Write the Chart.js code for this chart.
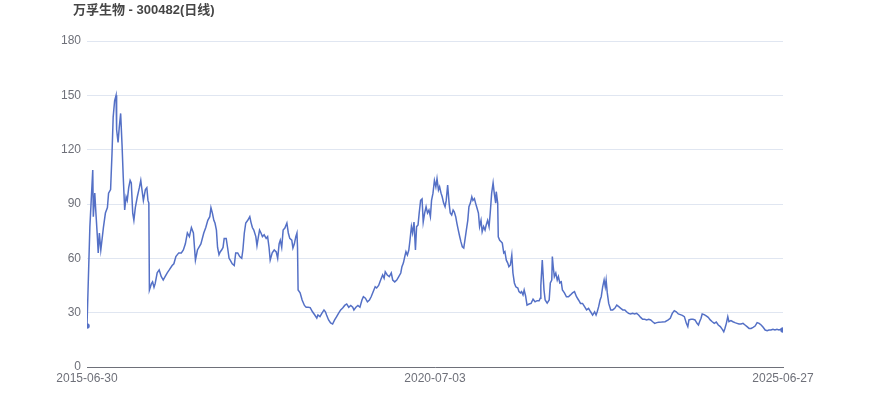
<!DOCTYPE html>
<html>
<head>
<meta charset="utf-8">
<script src="https://cdn.jsdelivr.net/npm/chart.js@4.4.0/dist/chart.umd.min.js"></script>
<style>
  html, body { margin: 0; padding: 0; background: #fff; }
  #wrap { width: 870px; height: 417px; position: relative; }
</style>
</head>
<body>
<div id="wrap"><canvas id="priceChart"></canvas></div>
<script>
// 万孚生物 300482 daily close (trading-day index -> price)
const chartTitle = '万孚生物 - 300482(日线)';
const tickDays = [0, 1210, 2420];
const tickDates = ['2015-06-30', '2020-07-03', '2025-06-27'];
const yTicks = [0, 30, 60, 90, 120, 150, 180];

const tradeDay = [
  0, 10, 20, 22, 27, 31, 36, 39, 43, 48, 52, 57, 64, 71, 75, 82, 87, 91, 96, 101,
  103, 108, 112, 117, 122, 126, 131, 136, 140, 145, 150, 154, 159, 163, 168, 175, 182, 187, 191, 196,
  203, 208, 212, 215, 217, 224, 228, 233, 237, 244, 251, 258, 265, 272, 279, 286, 296, 302, 309, 319,
  328, 335, 342, 349, 356, 363, 370, 377, 384, 396, 406, 413, 420, 427, 431, 436, 441, 445, 450, 454,
  459, 463, 468, 473, 477, 484, 489, 494, 498, 505, 512, 517, 524, 531, 538, 542, 547, 552, 559, 566,
  570, 575, 580, 587, 591, 596, 600, 605, 610, 616, 623, 628, 633, 637, 644, 651, 658, 663, 668, 672,
  677, 682, 688, 695, 700, 705, 712, 716, 721, 726, 730, 732, 734, 741, 748, 756, 762, 769, 776, 784,
  792, 799, 803, 810, 817, 824, 829, 833, 840, 847, 854, 861, 868, 875, 882, 889, 896, 903, 910, 917,
  924, 928, 935, 942, 949, 956, 961, 968, 975, 982, 988, 995, 1002, 1007, 1014, 1021, 1028, 1033, 1037, 1044,
  1051, 1058, 1063, 1070, 1077, 1084, 1091, 1095, 1100, 1105, 1109, 1114, 1119, 1123, 1128, 1132, 1137, 1142, 1146, 1151,
  1155, 1160, 1165, 1169, 1174, 1179, 1184, 1189, 1194, 1198, 1203, 1208, 1213, 1217, 1222, 1226, 1231, 1235, 1240, 1245,
  1249, 1254, 1259, 1263, 1268, 1273, 1277, 1282, 1286, 1291, 1296, 1300, 1305, 1310, 1314, 1319, 1324, 1328, 1333, 1338,
  1342, 1347, 1351, 1356, 1361, 1365, 1370, 1374, 1379, 1384, 1388, 1393, 1398, 1402, 1407, 1412, 1416, 1421, 1423, 1428,
  1430, 1435, 1440, 1444, 1449, 1453, 1458, 1463, 1467, 1472, 1477, 1481, 1486, 1491, 1498, 1502, 1507, 1511, 1516, 1520,
  1525, 1530, 1537, 1544, 1551, 1558, 1565, 1572, 1576, 1578, 1583, 1589, 1593, 1600, 1607, 1611, 1616, 1618, 1621, 1625,
  1630, 1635, 1639, 1644, 1649, 1653, 1660, 1667, 1674, 1681, 1688, 1695, 1702, 1709, 1716, 1723, 1730, 1737, 1744, 1751,
  1758, 1765, 1770, 1774, 1779, 1784, 1788, 1793, 1798, 1802, 1805, 1809, 1814, 1821, 1828, 1835, 1842, 1849, 1856, 1863,
  1870, 1876, 1883, 1890, 1897, 1904, 1911, 1918, 1925, 1932, 1939, 1946, 1953, 1960, 1967, 1974, 1981, 1988, 1998, 2010,
  2021, 2028, 2035, 2042, 2049, 2056, 2063, 2070, 2077, 2084, 2089, 2093, 2100, 2107, 2114, 2121, 2126, 2130, 2135, 2139,
  2146, 2153, 2160, 2167, 2174, 2181, 2188, 2195, 2202, 2209, 2214, 2218, 2223, 2228, 2232, 2239, 2246, 2253, 2260, 2267,
  2274, 2281, 2288, 2295, 2302, 2309, 2316, 2323, 2330, 2337, 2344, 2351, 2358, 2365, 2371, 2378, 2385, 2392, 2399, 2406,
  2413, 2420
];

const close = [
  22.6, 77.5, 108.8, 83, 96, 85, 72, 63, 74, 64.6, 70, 77, 85, 88, 96, 98, 118, 138, 147, 150,
  131, 124, 132, 140, 122, 105, 86.7, 94, 92, 99, 103, 101.6, 85, 81, 88, 94, 99, 103, 98, 92,
  98, 99, 92, 90.5, 42.5, 46, 47, 44, 46, 52, 53.6, 50, 48, 50, 52, 53.6, 56, 57, 61, 63,
  63, 64.6, 68, 74, 72, 77, 74, 59, 64.6, 68, 74, 77, 81, 83, 88, 85, 81, 79.5, 75.6, 66,
  62, 63.5, 64.6, 66, 71, 71, 65.7, 60, 59, 57, 56, 63, 63, 61, 60, 64.6, 74, 79.5, 81, 83,
  80, 77, 75.6, 72, 67, 72, 75.6, 74, 72, 73, 71, 72, 66, 59, 63, 64.6, 63.5, 60, 68, 70,
  66, 75.6, 76.7, 79.5, 74, 71, 70, 65.7, 68, 72, 74, 66, 42.5, 41, 37, 34, 33, 33, 32.8, 30.5,
  28.7, 27, 28.7, 27.8, 29.8, 31.5, 30.5, 28.7, 26, 24.3, 23.7, 26, 27.8, 29.8, 31.5, 32.6, 34, 34.8, 33, 34,
  33, 31.5, 33, 34, 33, 37, 38.8, 38, 36, 37, 38.8, 41.6, 44.3, 43.6, 45, 48, 50.8, 49, 52.6, 50.8,
  49.9, 51.9, 48, 47, 48, 49.9, 51.9, 55.4, 57.4, 61, 63.7, 61.8, 64.6, 70, 77.5, 74, 80, 64.6, 77.5, 78.4,
  85, 92, 92.8, 80, 85, 88.5, 85, 86.7, 83, 92, 96, 103, 99.5, 104, 97.7, 99.5, 96, 94, 90.5, 88.5,
  92, 100.5, 90.5, 85, 83.9, 86.7, 85.7, 83, 79.5, 75.6, 71.9, 69.2, 66.4, 65.7, 70, 75.6, 81, 88.5, 90.5, 94,
  92, 93, 90.5, 87.8, 85, 77.5, 81, 74.7, 77.5, 75.6, 78.4, 81, 77.5, 85, 96, 101.6, 96, 90.5, 96.8, 90.5,
  71.9, 70, 69.2, 68.4, 63, 63.7, 59, 57.4, 55.4, 56.3, 61.8, 51.9, 46.4, 44.3, 43.6, 41.6, 40.9, 41.6, 39.8, 42.5,
  39.2, 34.2, 34.8, 35.1, 37.4, 36, 36.6, 36.6, 38, 45, 59, 42.5, 37, 35.3, 37, 46.4, 48, 61, 55.4, 49.9,
  51.9, 48, 49.9, 46.4, 47, 42.5, 40.9, 38.8, 38.8, 39.8, 40.9, 41.6, 38.8, 37, 35.1, 35.1, 33.3, 31.5, 32.4, 30.5,
  28.7, 30.5, 28.7, 30.5, 33.3, 37, 38.8, 44.3, 48, 44.3, 48, 40.9, 35.1, 31.5, 31.5, 32.4, 34.2, 33.3, 32.4, 31.5,
  31.5, 30.5, 29.6, 29.3, 29.6, 29.3, 29.6, 28.7, 27.4, 26.3, 26.3, 26, 26.3, 26, 25, 24.1, 24.5, 24.7, 24.8, 25,
  26, 26.9, 29.6, 31.1, 30.5, 29.3, 28.9, 28.5, 27.8, 24.1, 22.3, 26, 26.3, 26.3, 26, 24.1, 23.2, 25, 26.9, 29.3,
  28.9, 28.2, 27.4, 26, 25, 24.1, 24.8, 23.2, 22.3, 20.8, 19.5, 21.3, 24.1, 27.8, 25, 25.6, 25, 24.5, 24.1, 23.7,
  23.7, 24.1, 23.2, 22.3, 21.3, 21.3, 21.9, 22.6, 24.5, 24.1, 23.2, 21.9, 20.4, 20, 20.4, 20.4, 20.8, 20.4, 20.8, 20.4,
  20.8, 20.4
];

const fontFamily = "'Liberation Sans', 'Noto Sans CJK SC', sans-serif";

// title drawn in the top-left corner
const titlePlugin = {
    id: 'cornerTitle',
    afterDraw(chart) {
        const c = chart.ctx;
        c.save();
        c.font = 'bold 13px ' + fontFamily;
        c.fillStyle = '#464646';
        c.textBaseline = 'middle';
        c.textAlign = 'left';
        c.fillText(chartTitle, 73, 10);
        c.restore();
    }
};

const ctx = document.getElementById('priceChart').getContext('2d');
const priceChart = new Chart(ctx, {
    type: 'line',
    data: {
        datasets: [{
            label: chartTitle,
            data: tradeDay.map((d, i) => ({ x: d, y: close[i] })),
            borderColor: '#5470c6',
            backgroundColor: '#5470c6',
            borderWidth: 1.5,
            tension: 0,
            pointRadius: (c) => (c.dataIndex === 0 || c.dataIndex === close.length - 1) ? 2 : 0,
            pointHoverRadius: 0,
            fill: false
        }]
    },
    options: {
        responsive: true,
        maintainAspectRatio: false,
        animation: false,
        layout: { padding: { top: 41, right: 87, bottom: 0, left: 0 } },
        plugins: {
            legend: { display: false },
            tooltip: { enabled: false }
        },
        scales: {
            x: {
                type: 'linear',
                min: tickDays[0],
                max: tickDays[tickDays.length - 1],
                afterBuildTicks: (scale) => { scale.ticks = tickDays.map(v => ({ value: v })); },
                afterFit: (scale) => { scale.height = 50; },
                grid: { display: false, drawTicks: false },
                border: { color: '#6e7079', width: 1 },
                ticks: {
                    autoSkip: false,
                    maxRotation: 0,
                    padding: 4,
                    color: '#6e7079',
                    font: { size: 12, family: fontFamily },
                    callback: (v) => tickDates[tickDays.indexOf(v)]
                }
            },
            y: {
                min: 0,
                max: 180,
                afterBuildTicks: (scale) => { scale.ticks = yTicks.map(v => ({ value: v })); },
                afterFit: (scale) => { scale.width = 87; },
                grid: { color: '#e0e6f1', drawTicks: false },
                border: { display: false },
                ticks: {
                    padding: 6,
                    color: '#6e7079',
                    font: { size: 12, family: fontFamily }
                }
            }
        }
    },
    plugins: [titlePlugin]
});
</script>
</body>
</html>
